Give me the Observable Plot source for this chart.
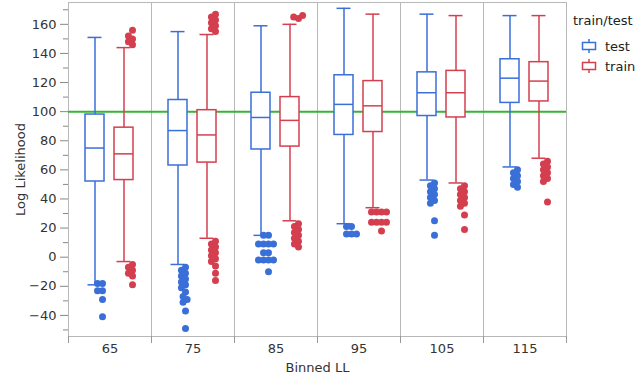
<!DOCTYPE html>
<html>
<head>
<meta charset="utf-8">
<script src="https://cdn.jsdelivr.net/npm/d3@7"></script>
<script src="https://cdn.jsdelivr.net/npm/@observablehq/plot@0.6"></script>
<style>
  html, body { margin: 0; padding: 0; background: #fff; }
  #wrap { position: relative; width: 640px; height: 375px; font-family: "DejaVu Sans", sans-serif; }
  #legend { position: absolute; left: 573px; top: 13px; font-size: 13px; color: #222; }
  #legend .title { margin-bottom: 8px; }
  #legend .item { display: flex; align-items: center; height: 20px; }
  #legend svg { margin-left: 8px; margin-right: 8px; }
</style>
</head>
<body>
<div id="wrap">
  <div id="chart"></div>
  <div id="legend"></div>
</div>
<script>
// ---- data ----
const bins = ["65", "75", "85", "95", "105", "115"];
const groups = ["test", "train"];

const testLo  = [-19, -5, 15, 23, 53, 62];
const testQ1  = [52, 63, 74, 84, 97, 106];
const testMed = [75, 87, 96, 105, 113, 123];
const testQ3  = [98, 108, 113, 125, 127, 136];
const testHi  = [151, 155, 159, 171, 167, 166];

const trainLo  = [-3, 13, 25, 34, 51, 68];
const trainQ1  = [53, 65, 76, 86, 96, 107];
const trainMed = [71, 84, 94, 104, 113, 121];
const trainQ3  = [89, 101, 110, 121, 128, 134];
const trainHi  = [144, 153, 160, 167, 166, 166];

const testOutliers = [
  [-18, -18, -23, -23, -29, -41],
  [-7, -9, -11, -13, -15, -17, -19, -21, -24, -27, -29, -31, -37, -49],
  [15, 15, 9, 9, 9, 9, 3, 3, -2, -2, -2, -2, -10],
  [21, 21, 16, 16, 16],
  [51, 49, 47, 45, 43, 41, 39, 37, 25, 15],
  [60, 58, 56, 54, 52, 50, 48]
];
const trainOutliers = [
  [146, 148, 150, 152, 156, -5, -7, -9, -11, -13, -19],
  [155, 157, 159, 161, 163, 165, 167, 11, 9, 7, 5, 3, 1, -1, -3, -6, -11, -16],
  [164, 165, 166, 23, 21, 19, 17, 15, 13, 11, 9, 7],
  [31, 31, 31, 31, 24, 24, 24, 24, 18],
  [49, 47, 45, 43, 41, 39, 37, 35, 29, 19],
  [66, 64, 62, 60, 58, 56, 54, 52, 38]
];

const refLine = [100];
const yTicks = [-40, -20, 0, 20, 40, 60, 80, 100, 120, 140, 160];
const yMinorTicks = [-50, -30, -10, 10, 30, 50, 70, 90, 110, 130, 150, 170];
const yDomain = [-54.5, 175];

const colors = { test: "#3b6fd8", train: "#d43f4f" };

// ---- build tables ----
const stats = [];
bins.forEach((b, i) => {
  stats.push({ bin: b, group: "test", lo: testLo[i], q1: testQ1[i], med: testMed[i], q3: testQ3[i], hi: testHi[i] });
  stats.push({ bin: b, group: "train", lo: trainLo[i], q1: trainQ1[i], med: trainMed[i], q3: trainQ3[i], hi: trainHi[i] });
});
const testOut = bins.flatMap((b, i) => testOutliers[i].map(v => ({ bin: b, v })));
const trainOut = bins.flatMap((b, i) => trainOutliers[i].map(v => ({ bin: b, v })));

const edgeTicks = (index, scales, values, dimensions) => {
  const { marginLeft, marginRight, width, height, marginBottom } = dimensions;
  const g = d3.create("svg:g").attr("stroke", "#999");
  for (const x of [marginLeft, width - marginRight]) {
    g.append("line").attr("x1", x + 0.5).attr("x2", x + 0.5)
      .attr("y1", height - marginBottom).attr("y2", height - marginBottom + 7);
  }
  return g.node();
};

const chart = Plot.plot({
  width: 640,
  height: 375,
  marginLeft: 65,
  marginRight: 72,
  marginTop: 2,
  marginBottom: 39,
  style: { fontFamily: "'DejaVu Sans', sans-serif", fontSize: "13px", color: "#333", background: "#fff" },
  fx: { domain: bins, padding: 0, label: "Binned LL", axis: null },
  x: { domain: groups, paddingInner: 0.333, paddingOuter: 0.56, axis: null },
  y: { domain: yDomain, axis: null },
  color: { domain: groups, range: [colors.test, colors.train] },
  marks: [
    Plot.axisY(yMinorTicks, { tickSize: 5, tickFormat: () => "", label: null, stroke: "#888" }),
    Plot.axisY(yTicks, { tickSize: 8, tickPadding: 4, stroke: "#888", label: "Log Likelihood", labelAnchor: "center", labelArrow: "none", labelOffset: 53, fontSize: 13, fill: "#333" }),
    Plot.axisFx({ anchor: "bottom", tickSize: 0, tickPadding: 7, label: "Binned LL", labelAnchor: "center", labelArrow: "none", labelOffset: 35, fontSize: 13, fill: "#333" }),
    Plot.frame({ stroke: "#b8b8b8" }),
    edgeTicks,
    Plot.ruleY(refLine, { stroke: "#36b436", strokeWidth: 2 }),
    Plot.ruleX(stats, { fx: "bin", x: "group", y1: "lo", y2: "hi", stroke: "group", strokeWidth: 1.5 }),
    Plot.tickY(stats, { fx: "bin", x: "group", y: "lo", stroke: "group", strokeWidth: 1.5, insetLeft: 2.5, insetRight: 2.5 }),
    Plot.tickY(stats, { fx: "bin", x: "group", y: "hi", stroke: "group", strokeWidth: 1.5, insetLeft: 2.5, insetRight: 2.5 }),
    Plot.barY(stats, { fx: "bin", x: "group", y1: "q1", y2: "q3", fill: "white", stroke: "group", strokeWidth: 1.5 }),
    Plot.tickY(stats, { fx: "bin", x: "group", y: "med", stroke: "group", strokeWidth: 1.5 }),
    Plot.dot(testOut, Plot.dodgeX({ anchor: "middle", padding: -2 }, { fx: "bin", y: "v", r: 3.5, fill: colors.test, dx: -17 })),
    Plot.dot(trainOut, Plot.dodgeX({ anchor: "middle", padding: -2 }, { fx: "bin", y: "v", r: 3.5, fill: colors.train, dx: 13 }))
  ]
});
document.getElementById("chart").appendChild(chart);

// ---- legend ----
const legend = document.getElementById("legend");
const t = document.createElement("div");
t.className = "title";
t.textContent = "train/test";
legend.appendChild(t);
groups.forEach(g => {
  const item = document.createElement("div");
  item.className = "item";
  const c = colors[g];
  item.innerHTML = `<svg width="16" height="16" viewBox="0 0 16 16"><line x1="8" y1="1" x2="8" y2="15" stroke="${c}" stroke-width="1.5"/><rect x="1.5" y="4.5" width="13" height="7" fill="white" stroke="${c}" stroke-width="1.5"/></svg><span>${g}</span>`;
  legend.appendChild(item);
});
</script>
</body>
</html>
